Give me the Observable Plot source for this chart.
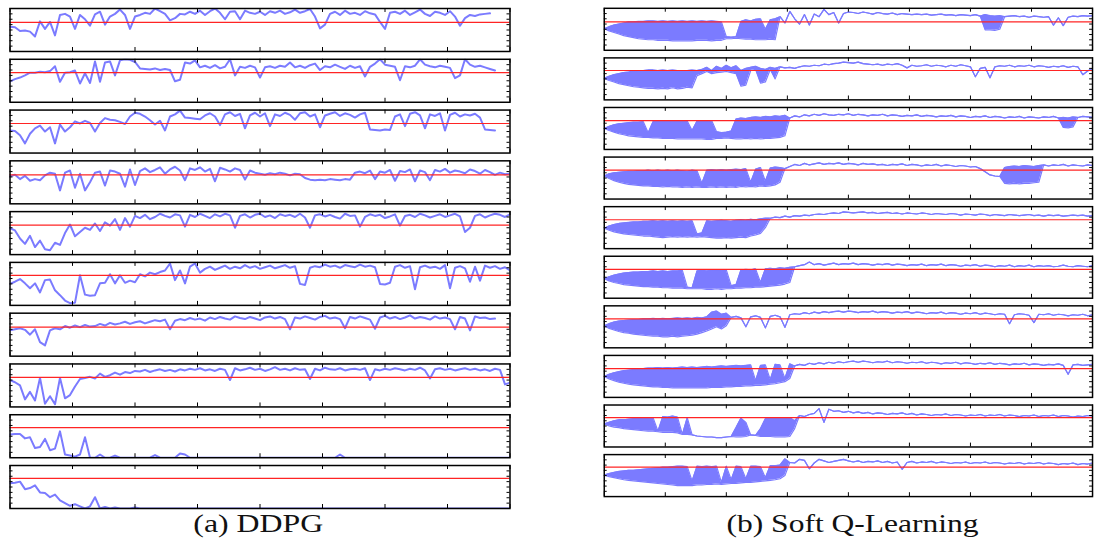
<!DOCTYPE html>
<html><head><meta charset="utf-8">
<script src="https://cdn.jsdelivr.net/npm/d3@7"></script>
<script src="https://cdn.jsdelivr.net/npm/@observablehq/plot@0.6"></script>
<style>
html,body{margin:0;padding:0;background:#fff;}
body{width:1094px;height:554px;overflow:hidden;position:relative;}
.panel{position:absolute;top:0;}
#caps{position:absolute;left:0;top:500px;}
</style></head><body>
<div id="left" class="panel" style="left:0px"></div>
<div id="right" class="panel" style="left:594px"></div>
<svg id="caps" width="1094" height="54" xmlns="http://www.w3.org/2000/svg">
  <text x="258.3" y="32" text-anchor="middle" font-family="Liberation Serif" font-size="25" fill="#111" textLength="130" lengthAdjust="spacingAndGlyphs">(a) DDPG</text>
  <text x="852.5" y="32" text-anchor="middle" font-family="Liberation Serif" font-size="25" fill="#111" textLength="252" lengthAdjust="spacingAndGlyphs">(b) Soft Q-Learning</text>
</svg>
<script>
// tick positions (sample index 0..100 across the frame; value scale 0..8)
const xTicks = [0, 12.5, 25, 37.5, 50, 62.5, 75, 87.5, 100];
const yTicks = [1, 2, 3, 4, 5, 6, 7];
const runs = [0,1,2,3,4,5,6,7,8,9];
const ddpgRed = [5.4,5.5,5.5,5.4,5.5,5.6,5.4,5.5,5.6,5.6];
const sqlRed  = [5.4,5.6,5.5,5.5,5.5,5.5,5.5,5.5,5.6,5.6];

// ---- DDPG runs ----
const ddpg1 = [4.6,4.5,3.8,3.9,3.7,2.8,5.6,4.2,5.5,3.0, 6.8,7.0,6.5,4.2,6.8,6.0,4.8,6.9,7.4,5.0, 6.5,7.0,7.8,6.8,4.2,6.5,6.8,7.2,7.0,8.0, 7.5,7.0,5.8,6.2,7.0,6.9,7.4,7.0,7.6,6.8, 7.5,8.0,7.2,6.0,7.4,7.5,6.0,7.6,7.2,7.0, 7.4,6.8,7.5,7.2,7.6,7.0,7.3,7.8,7.2,7.5, 7.9,6.5,4.3,5.0,7.0,7.4,6.8,7.6,7.0,7.2, 6.8,7.5,7.1,6.9,5.5,4.2,7.2,7.4,7.0,7.6, 6.8,7.3,7.8,7.0,6.6,7.4,7.2,6.8,7.5,6.5, 4.8,6.2,6.8,6.6,6.9,7.0,7.1];
const ddpg2 = [3.9,4.3,4.6,5.0,5.5,5.5,5.7,5.6,5.8,6.7, 3.8,5.5,5.6,5.9,3.5,5.4,3.6,7.6,3.8,7.4, 7.6,5.0,7.8,8.0,7.9,7.5,6.3,6.2,6.1,6.3, 6.0,6.2,6.0,3.9,4.2,7.4,7.2,7.8,6.5,6.8, 6.4,6.9,6.3,6.6,8.0,5.0,6.6,6.4,6.8,6.5, 4.6,6.5,6.7,6.4,6.8,6.6,7.4,6.5,6.8,6.4, 6.9,7.2,6.0,6.7,6.5,7.0,6.6,6.2,6.8,6.4, 6.7,4.8,6.6,7.2,8.0,7.0,6.8,6.6,4.1,6.7, 6.5,6.8,8.0,7.0,6.7,6.5,6.8,6.6,6.4,4.5, 5.0,8.0,7.0,6.6,6.8,6.5,6.2,5.9];
const ddpg3 = [4.2,4.1,3.3,1.8,3.6,4.6,5.1,4.0,4.8,1.8, 5.3,4.0,4.8,5.9,5.5,6.0,5.6,4.0,5.6,6.5, 6.2,6.1,5.8,5.4,6.8,7.5,7.3,6.8,6.1,5.3, 6.0,4.2,6.8,7.2,7.9,6.6,6.5,6.4,6.3,7.0, 7.4,6.8,5.2,7.2,7.6,6.9,7.3,4.6,7.0,7.5, 6.8,7.4,5.0,7.2,6.9,7.5,7.1,6.2,7.4,7.6, 6.8,7.2,4.8,7.0,7.3,7.6,6.9,7.4,7.1,6.6, 7.2,7.5,4.4,4.3,4.2,4.4,4.3,6.8,7.2,5.0, 7.3,7.6,7.0,4.6,7.2,6.9,7.4,4.2,7.1,7.5, 6.8,7.2,7.0,7.3,6.6,4.4,4.3,4.2];
const ddpg4 = [5.1,5.4,4.6,5.2,4.3,4.6,4.4,5.3,5.8,5.6, 2.5,5.8,6.2,3.0,5.6,2.5,4.0,5.8,6.0,3.4, 6.2,6.0,5.6,3.2,6.4,3.5,6.1,6.6,5.9,6.3, 6.8,5.6,6.4,6.9,6.2,4.4,6.6,6.3,6.8,6.0, 6.5,4.2,6.7,6.4,6.0,6.6,6.3,4.5,6.2,5.8, 5.6,5.4,5.7,5.5,5.8,5.6,5.3,5.6,5.5,4.8, 4.5,4.4,4.5,4.4,4.6,4.5,4.4,4.6,4.5,5.8, 6.0,5.7,6.2,4.6,6.0,5.8,6.3,4.3,6.1,5.9, 6.4,4.2,6.2,5.9,4.4,6.3,6.0,6.5,5.8,6.2, 6.0,5.7,6.4,6.1,5.6,6.3,5.9,5.4,5.8,5.5,5.6];
const ddpg5 = [4.9,4.5,3.0,2.0,3.5,1.4,2.6,1.0,0.8,2.2, 1.8,4.0,5.6,3.4,4.2,5.0,4.6,5.8,4.4,6.0, 5.4,6.6,4.6,6.8,5.2,7.2,6.8,7.4,6.6,7.0, 7.6,7.2,6.9,7.5,7.3,5.2,7.4,7.0,7.6,7.2, 6.8,7.5,7.1,7.6,7.3,5.0,7.2,7.5,6.9,7.4, 7.6,7.0,7.3,6.8,7.5,7.2,7.4,7.0,7.6,6.9, 5.0,7.3,7.5,7.1,7.4,7.0,6.7,7.6,7.2,7.3, 5.2,7.0,7.5,7.2,7.4,6.8,7.1,7.5,5.4,7.2, 7.4,7.0,7.6,7.3,6.9,7.2,7.5,7.0,7.3,7.6, 7.1,4.2,5.0,7.2,7.5,6.9,7.3,7.6,7.4,7.0,7.5];
const ddpg6 = [4.0,4.4,4.9,4.1,3.2,4.1,2.4,4.7,4.8,2.8, 1.9,0.9,0.4,0.5,5.6,2.0,1.8,1.9,4.1,4.2, 5.8,4.1,5.6,4.2,4.6,4.3,5.8,5.4,6.1,5.8, 6.2,6.5,7.8,4.7,6.5,4.1,7.2,7.8,6.1,6.8, 7.2,6.6,7.0,7.4,6.8,7.2,6.9,7.5,7.0,7.3, 6.8,7.1,7.4,6.9,7.2,7.5,7.0,7.3,4.0,3.8, 7.0,7.3,7.1,7.6,7.2,7.4,7.0,7.5,7.3,7.1, 7.6,7.2,7.4,7.1,4.0,3.9,4.2,7.2,7.5,7.0, 7.3,3.0,7.1,7.4,7.0,7.2,6.8,7.5,3.2,7.0, 7.3,6.9,4.4,7.2,4.6,7.4,7.0,7.3,6.8,7.1,6.5];
const ddpg7 = [4.8,5.0,5.2,4.9,4.0,5.0,2.6,2.0,4.8,5.2, 5.0,5.6,5.3,5.7,5.4,5.8,5.5,5.6,6.0,5.7, 6.2,5.9,6.1,6.4,6.0,6.3,6.5,6.1,6.4,6.7, 6.5,6.8,5.0,6.6,6.9,6.7,7.1,6.8,7.0,6.6, 7.2,6.9,7.3,7.0,6.8,7.4,7.1,6.9,7.3,7.0, 6.7,7.2,7.4,7.0,7.3,6.9,5.0,7.2,7.0,7.4, 7.1,6.8,7.3,7.5,7.0,7.2,6.9,5.2,7.3,7.0, 7.4,7.1,6.8,5.1,7.2,7.5,7.0,7.3,6.9,7.2, 7.6,7.0,7.3,7.1,6.8,7.4,7.0,7.2,6.9,5.0, 7.3,7.0,4.8,7.4,7.1,7.2,6.9,7.0];
const ddpg8 = [5.0,4.6,4.0,1.4,2.8,1.2,5.4,0.6,2.0,0.5, 5.4,1.6,2.2,3.8,5.2,5.4,5.6,5.3,6.2,5.6, 5.9,6.4,6.0,6.5,6.3,6.7,6.6,6.9,6.5,6.8, 7.0,6.7,6.9,6.6,7.0,6.8,7.1,6.9,7.2,6.8, 7.0,6.7,7.1,6.9,5.0,7.2,6.8,7.0,7.3,6.9, 7.1,6.7,7.0,7.4,6.9,7.1,6.8,7.2,6.9,7.0, 5.2,7.1,6.8,7.3,7.0,6.9,7.2,6.8,7.0,7.1, 6.9,7.2,5.0,7.0,6.8,7.1,6.9,7.2,7.0,6.8, 7.1,6.9,7.3,6.8,5.3,7.0,7.2,6.9,7.1,6.8, 7.0,7.2,6.9,7.1,6.8,7.0,6.7,7.1,6.9,4.2,4.5];
const ddpg9 = [4.3,4.4,4.4,3.6,3.8,1.8,2.0,3.5,1.4,1.7, 4.9,0.6,0.4,0.2,0.6,3.8,0,0,0.6,0, 0,0.4,0,0,0,0,0,0,0,0.5, 0,0,0,0,0.8,0.6,0,0,0,0, 0,0,0,0,0,0,0,0,0,0, 0,0,0,0,0,0,0,0,0,0, 0,0,0,0,0,0,0.6,0,0,0, 0,0,0,0,0,0,0,0,0,0, 0,0,0,0,0,0,0,0,0,0, 0,0,0,0,0,0,0,0,0,0,0];
const ddpg10 = [4.7,4.8,5.0,3.6,3.8,4.3,3.0,2.9,2.1,2.6, 1.5,1.0,0.5,0.8,0.4,0,0.4,2.1,0,0.3, 0,0.2,0,0,0,0.2,0,0,0,0, 0,0,0,0,0,0,0,0,0,0, 0,0,0,0,0,0,0,0,0,0, 0,0,0,0,0,0,0,0,0,0, 0,0,0,0,0,0,0,0,0,0, 0,0,0,0,0,0,0,0,0,0, 0,0,0,0,0,0,0,0,0,0, 0,0,0,0,0,0,0,0,0,0,0];
const ddpgRuns = [ddpg1,ddpg2,ddpg3,ddpg4,ddpg5,ddpg6,ddpg7,ddpg8,ddpg9,ddpg10];

// ---- Soft Q-Learning runs: upper envelope (hi) and lower envelope segments (lo) ----
const sqlHi1 = [4.1,4.5,4.8,5.0,5.2,5.4,5.4,5.5,5.5,5.6, 5.6,5.5,5.6,5.5,5.6,5.5,5.6,5.5,5.6,5.5, 5.6,5.5,5.6,5.5,5.4,2.6,2.5,2.6,5.5,5.8, 5.6,5.9,6.0,4.0,5.8,6.0,6.4,5.2,7.4,6.0, 5.0,6.8,4.8,6.9,6.4,7.8,6.8,7.2,5.2,7.0, 7.3,7.2,7.0,7.3,7.1,6.9,7.2,7.0,6.9,7.1, 6.8,7.0,6.9,6.8,6.9,6.8,6.9,6.7,6.8,6.9, 6.7,6.8,6.6,6.8,6.7,6.6,6.8,6.5,6.8,6.6, 6.5,6.6,6.4,6.5,6.6,6.4,6.5,6.3,6.5,6.4, 6.3,6.4,4.8,6.2,4.7,6.3,6.5,6.4,6.6,6.5,6.6];
const sqlLo1 = [[0,[4.1,3.7,3.4,3.1,2.8,2.6,2.4,2.2,2.1,2.0, 2.0,1.9,1.9,1.9,1.8,1.8,1.8,1.8,1.8,1.9, 1.9,1.9,1.8,1.9,1.9,2.2,2.2,2.3,2.2,2.1, 2.1,2.0,2.0,2.0,2.1,2.0]],[78,[3.9,3.9,3.8,4.0]]];
const sqlHi2 = [4.1,4.5,4.8,5.0,5.2,5.3,5.5,5.6,5.6,5.7, 5.7,5.6,5.7,5.6,5.7,5.6,5.5,5.6,5.7,5.6, 5.8,6.2,5.6,6.4,6.0,6.6,6.1,6.5,5.6,6.0, 6.2,6.4,6.0,5.8,6.2,6.0,6.3,6.1,6.2,6.0, 6.3,6.5,6.4,6.6,6.5,6.8,6.7,6.9,7.0,7.2, 7.1,7.0,7.2,6.9,6.8,6.7,6.8,6.6,6.8,6.7, 6.9,6.6,6.1,6.6,6.4,6.5,6.7,6.4,6.6,6.5, 6.3,6.6,6.4,6.7,6.5,6.3,4.4,6.0,6.2,4.2, 6.3,6.5,6.4,6.6,6.3,6.5,6.4,6.6,6.3,6.5, 6.4,6.2,6.4,6.3,6.5,6.2,6.4,6.3,4.8,5.5,6.0];
const sqlLo2 = [[0,[4.1,3.7,3.4,3.1,2.9,2.7,2.5,2.4,2.3,2.2, 2.2,2.1,2.2,2.1,2.3,2.1,2.2,2.4,2.3,4.6, 5.0,5.4,5.0,5.2,5.3,5.4,5.2,5.0,2.6,2.8, 5.6,5.8,3.2,3.4,5.8,4.0]]];
const sqlHi3 = [4.0,4.4,4.7,4.9,5.0,5.1,5.2,5.2,5.3,3.2, 5.3,5.4,5.3,5.4,5.3,5.4,5.3,5.4,3.6,5.4, 5.5,5.4,5.5,3.4,3.2,3.3,3.5,5.8,6.0,5.9, 6.1,6.2,6.1,6.3,6.2,6.4,6.3,6.5,6.0,6.4, 6.2,6.6,6.4,6.7,6.5,6.8,6.6,6.5,6.7,6.6, 6.8,6.5,6.7,6.6,6.4,6.6,6.5,6.7,6.4,6.6, 6.5,6.3,6.5,6.4,6.6,6.3,6.5,6.4,6.2,6.4, 6.3,6.5,6.2,6.4,6.3,6.1,6.3,6.2,6.4,6.1, 6.3,6.2,6.0,6.2,6.1,6.3,6.0,6.2,6.1,6.0, 6.2,6.1,6.3,6.0,6.1,6.0,6.2,6.1,6.3,6.2,6.1];
const sqlLo3 = [[0,[4.0,3.6,3.3,3.0,2.8,2.6,2.5,2.4,2.3,2.3, 2.2,2.2,2.1,2.1,2.1,2.0,2.0,2.0,2.0,2.0, 2.0,1.9,1.9,2.1,2.1,2.2,2.1,2.0,2.0,2.1, 2.0,2.1,2.0,2.1,2.1,2.2,2.3,2.6]],[94,[4.2,4.1,4.3]]];
const sqlHi4 = [4.4,4.8,5.0,5.1,5.2,5.3,5.3,5.4,5.4,5.5, 5.4,5.5,5.4,5.5,5.4,5.5,5.4,5.3,5.5,5.4, 3.0,5.5,5.6,5.5,5.6,5.5,5.6,5.7,5.6,5.8, 3.2,5.7,6.0,3.4,5.9,6.1,6.0,5.8,6.2,6.6, 6.4,6.8,6.5,6.7,6.9,6.6,6.8,6.7,6.9,6.6, 6.8,6.7,6.5,6.8,6.6,6.7,6.5,6.6,6.4,6.6, 6.5,6.7,6.4,6.6,6.5,6.3,6.5,6.4,6.6,6.3, 6.5,6.4,6.2,6.4,6.3,6.1,6.2,5.8,5.2,4.6, 4.4,4.3,6.0,6.2,6.3,6.2,6.4,6.3,6.2,6.4, 6.5,6.3,6.5,6.4,6.6,6.3,6.5,6.4,6.3,6.5,6.4];
const sqlLo4 = [[0,[4.4,3.9,3.5,3.2,3.0,2.8,2.7,2.6,2.5,2.5, 2.4,2.4,2.3,2.4,2.3,2.3,2.2,2.3,2.2,2.3, 2.2,2.2,2.3,2.2,2.3,2.2,2.3,2.2,2.4,2.3, 2.4,2.3,2.5,2.4,2.5,2.7,3.2]],[82,[3.0,2.9,3.0,2.9,3.0,3.0,3.1,3.2]]];
const sqlHi5 = [3.9,4.3,4.6,4.8,4.9,5.0,5.1,5.1,5.2,5.2, 5.3,5.2,5.3,5.2,5.3,5.2,5.3,5.2,5.3,2.8, 3.0,5.3,5.2,5.3,5.4,5.3,5.2,5.4,5.5,5.4, 5.6,5.5,5.7,5.8,5.8,6.0,5.9,6.2,6.0,6.3, 6.2,6.4,6.3,6.5,6.6,6.5,6.7,6.8,6.7,7.0, 6.9,6.8,6.9,7.0,6.8,6.9,6.7,6.8,6.9,6.7, 6.8,6.6,6.8,6.7,6.6,6.8,6.7,6.5,6.7,6.6, 6.5,6.7,6.6,6.4,6.6,6.5,6.4,6.6,6.5,6.3, 6.5,6.4,6.3,6.5,6.4,6.3,6.4,6.5,6.3,6.4, 6.2,6.4,6.3,6.4,6.2,6.3,6.4,6.3,6.4,6.2,6.3];
const sqlLo5 = [[0,[3.9,3.5,3.2,3.0,2.8,2.7,2.6,2.5,2.4,2.4, 2.3,2.2,2.1,2.2,2.3,2.2,2.3,2.2,2.3,2.2, 2.3,2.2,2.1,2.0,2.0,2.1,2.0,2.1,2.2,2.1, 2.4,2.6,2.9,4.0]]];
const sqlHi6 = [3.7,4.1,4.4,4.6,4.8,4.9,5.0,5.0,5.1,5.1, 5.2,5.1,5.2,5.1,5.2,5.2,5.3,2.1,2.0,5.2, 5.3,5.2,5.3,5.4,5.3,5.4,2.4,2.6,5.4,5.5, 5.4,5.6,3.0,5.6,5.7,5.6,5.8,5.7,5.9,6.0, 6.2,6.4,6.9,6.4,6.6,6.3,6.5,6.7,6.4,6.6, 6.5,6.7,6.4,6.6,6.5,6.3,6.5,6.4,6.6,6.3, 6.5,6.4,6.2,6.4,6.3,6.5,6.2,6.4,6.3,6.5, 6.2,6.4,6.3,6.1,6.3,6.2,6.4,6.1,6.3,6.2, 6.0,6.2,6.1,6.3,6.0,6.2,6.1,6.3,6.0,6.2, 6.1,6.2,6.0,6.1,6.3,6.1,6.0,6.2,6.1,6.0,6.2];
const sqlLo6 = [[0,[3.7,3.3,3.0,2.8,2.6,2.5,2.4,2.3,2.2,2.2, 2.1,2.1,2.0,2.0,1.9,1.9,1.9,1.8,1.8,1.8, 1.8,1.7,1.7,1.8,1.7,1.8,1.8,1.9,1.9,2.0, 2.0,2.1,2.1,2.2,2.3,2.4,2.5,2.7,3.0]]];
const sqlHi7 = [4.2,4.6,4.9,5.1,5.2,5.3,5.4,5.4,5.5,5.5, 5.6,5.5,5.6,5.5,5.6,5.7,5.6,5.7,5.6,5.8, 5.7,5.9,6.8,7.0,6.4,6.6,5.8,6.0,5.7,4.0, 5.9,6.1,5.8,3.8,6.0,6.2,5.9,3.9,6.3,6.5, 6.4,6.7,6.5,6.8,6.6,6.9,6.7,6.9,7.0,6.8, 7.0,6.9,6.7,6.9,6.8,7.0,6.7,6.9,6.8,6.6, 6.8,6.7,6.9,6.6,6.8,6.7,6.5,6.7,6.6,6.8, 6.5,6.7,6.6,6.4,6.6,6.5,6.7,6.4,6.6,6.5, 6.3,6.5,6.4,4.6,6.3,6.5,6.4,6.2,4.8,6.4, 6.3,6.5,6.2,6.4,6.3,6.1,6.3,6.2,6.4,6.1,6.3];
const sqlLo7 = [[0,[4.2,3.7,3.4,3.1,2.9,2.8,2.6,2.5,2.4,2.3, 2.2,2.2,2.1,2.1,2.2,2.1,2.2,2.3,2.4,2.6, 2.9,3.2,3.6,4.0,3.6,4.2]]];
const sqlHi8 = [4.0,4.4,4.7,4.9,5.1,5.2,5.3,5.4,5.5,5.6, 5.6,5.7,5.6,5.7,5.6,5.7,5.8,5.7,5.8,5.7, 5.8,5.9,5.8,5.9,6.0,5.9,6.0,6.1,6.0,6.1, 6.2,3.2,6.1,6.2,3.4,6.3,6.2,3.6,6.4,6.0, 6.3,6.1,6.5,6.3,6.6,6.4,6.7,6.5,6.8,6.6, 6.8,6.9,6.7,6.9,6.8,6.6,6.8,6.7,6.9,6.6, 6.8,6.7,6.5,6.7,6.6,6.8,6.5,6.7,6.6,6.4, 6.6,6.5,6.7,6.4,6.6,6.5,6.3,6.5,6.4,6.6, 6.3,6.5,6.4,6.2,6.4,6.3,6.5,6.2,6.4,6.3, 6.1,6.3,6.2,6.4,6.1,4.4,6.2,6.3,6.1,6.2,6.3];
const sqlLo8 = [[0,[4.0,3.5,3.2,2.9,2.7,2.5,2.4,2.3,2.2,2.1, 2.0,2.0,1.9,1.9,1.8,1.8,1.8,1.8,1.8,1.8, 1.8,1.8,1.9,1.9,1.9,2.0,2.0,2.1,2.1,2.2, 2.2,2.3,2.3,2.4,2.5,2.6,2.8,3.0,3.6]]];
const sqlHi9 = [4.4,4.7,5.0,5.2,5.2,5.3,5.4,5.4,5.5,5.5, 5.6,3.0,5.8,5.7,5.9,5.7,2.4,5.6,2.3,2.1, 2.0,1.9,1.9,1.8,1.8,1.9,2.0,3.7,5.5,4.7, 2.3,2.2,3.5,5.4,5.5,5.4,5.5,5.4,5.6,5.0, 6.0,5.8,6.2,6.4,7.3,4.7,7.2,6.8,6.9,6.6, 6.8,6.5,6.7,6.4,6.6,6.3,6.5,6.4,6.2,6.4, 6.3,6.5,6.2,6.4,6.1,6.3,6.2,6.0,6.2,6.1, 6.3,6.0,6.2,6.1,5.9,6.1,6.0,6.2,5.9,6.1, 6.0,6.2,5.9,6.1,6.0,5.8,6.0,5.9,6.1,5.8, 6.0,5.9,6.1,5.8,6.0,5.9,5.7,5.9,5.8,6.0,5.9];
const sqlLo9 = [[0,[4.4,4.0,3.8,3.7,3.5,3.4,3.3,3.2,3.1,3.0, 3.0,2.9,2.8,2.8,2.8,2.7,2.4,2.4]],[27,[1.9,1.9,2.0]],[32,[2.0,2.0,2.0,1.9,1.9,1.9,2.0,3.5]]];
const sqlHi10 = [4.1,4.4,4.6,4.8,4.9,5.0,5.0,5.1,5.2,5.3, 5.4,5.5,5.6,5.6,5.7,5.8,5.8,5.7,3.0,5.8, 5.7,5.8,5.7,5.8,2.7,5.8,3.2,5.8,5.7,3.4, 5.8,5.8,5.7,3.6,5.9,5.9,6.0,7.2,6.5,6.4, 7.1,6.9,5.3,6.4,7.1,6.8,6.5,6.7,6.9,7.1, 6.8,6.6,6.8,6.5,6.7,6.6,6.8,6.5,6.7,6.4, 6.6,5.2,6.5,6.7,6.4,6.6,6.5,6.7,6.4,6.6, 6.5,6.3,6.5,6.4,6.6,6.3,6.5,6.4,6.6,6.3, 6.5,6.4,6.2,6.4,6.3,6.5,6.2,6.4,6.3,6.5, 6.2,6.4,6.3,6.1,6.3,6.2,6.4,6.1,6.3,6.2,6.4];
const sqlLo10 = [[0,[4.1,3.8,3.6,3.4,3.2,3.1,3.0,2.9,2.8,2.7, 2.6,2.5,2.4,2.3,2.2,2.1,2.1,2.1,2.1,2.2, 2.2,2.3,2.3,2.4,2.3,2.4,2.5,2.5,2.6,2.7, 2.7,2.8,2.9,3.0,3.1,3.2,3.4,4.0]]];
const sqlHiRuns = [sqlHi1,sqlHi2,sqlHi3,sqlHi4,sqlHi5,sqlHi6,sqlHi7,sqlHi8,sqlHi9,sqlHi10];
const sqlLoRuns = [sqlLo1,sqlLo2,sqlLo3,sqlLo4,sqlLo5,sqlLo6,sqlLo7,sqlLo8,sqlLo9,sqlLo10];

// ---- tables ----
const ddpgRows = ddpgRuns.flatMap((arr, run) => arr.map((v, k) => ({run, k, v})));
const sqlRows = sqlHiRuns.flatMap((hi, run) => {
  const lo = new Map();
  for (const [start, vals] of sqlLoRuns[run]) vals.forEach((v, j) => lo.set(start + j, v));
  return hi.map((h, k) => ({run, k, hi: h, lo: lo.has(k) ? lo.get(k) : h}));
});

const BLUE = "#7b7bff", RED = "#ff2424";
function commonMarks(red) {
  return [
    Plot.ruleY(runs, {y: i => red[i], fy: i => i, stroke: RED, strokeWidth: 1.2}),
    Plot.tickX(xTicks, {x: d => d, insetTop: 39, stroke: "#000", strokeWidth: 1}),
    Plot.tickX(xTicks, {x: d => d, insetBottom: 39, stroke: "#000", strokeWidth: 1}),
    Plot.tickY(yTicks, {y: d => d, insetRight: 497, stroke: "#000", strokeWidth: 1}),
    Plot.tickY(yTicks, {y: d => d, insetLeft: 497, stroke: "#000", strokeWidth: 1}),
    Plot.frame({stroke: "#000", strokeWidth: 1.5})
  ];
}
function opts(marginLeft, marginRight, marks) {
  return {
    width: marginLeft + 500 + marginRight, height: 512,
    marginTop: 8, marginBottom: 4, marginLeft, marginRight,
    style: {background: "transparent", overflow: "visible"},
    x: {domain: [0, 100], axis: null},
    y: {domain: [0, 8], axis: null},
    fy: {domain: runs, axis: null, paddingInner: 0.1535, paddingOuter: 0, round: false},
    marks
  };
}

const left = Plot.plot(opts(9.5, 10.5, [
  Plot.lineY(ddpgRows, {x: "k", y: "v", fy: "run", stroke: BLUE, strokeWidth: 2, clip: true}),
  ...commonMarks(ddpgRed)
]));
document.getElementById("left").append(left);

const right = Plot.plot(opts(10, 2, [
  Plot.areaY(sqlRows, {x: "k", y1: "lo", y2: "hi", fy: "run", fill: BLUE, clip: true}),
  Plot.lineY(sqlRows, {x: "k", y: "hi", fy: "run", stroke: BLUE, strokeWidth: 1.2, clip: true}),
  Plot.lineY(sqlRows, {x: "k", y: "lo", fy: "run", stroke: BLUE, strokeWidth: 1.2, clip: true}),
  ...commonMarks(sqlRed)
]));
document.getElementById("right").append(right);
</script>
</body></html>
